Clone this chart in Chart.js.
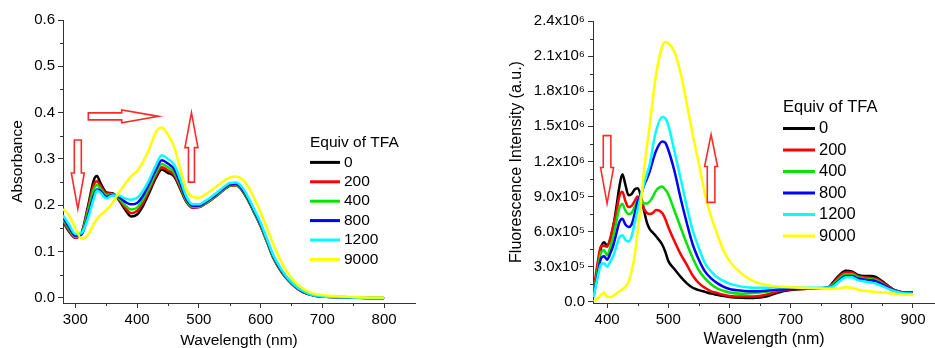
<!DOCTYPE html>
<html>
<head>
<meta charset="utf-8">
<script src="https://cdn.jsdelivr.net/npm/chart.js@4/dist/chart.umd.min.js"></script>
<style>
  html, body { margin: 0; padding: 0; background: #fff; }
  #wrap { position: relative; width: 935px; height: 348px; overflow: hidden; }
  canvas { position: absolute; top: 0; }
  #absChart { left: 0; }
  #flChart { left: 465px; }
</style>
</head>
<body>
<div id="wrap">
  <canvas id="absChart" width="465" height="348"></canvas>
  <canvas id="flChart" width="470" height="348"></canvas>
</div>
<script>
// legend labels and line colours (equivalents of TFA)
const equivTFA = ['0', '200', '400', '800', '1200', '9000'];
const lineColors = ['#000000', '#ff0000', '#00e600', '#0000ff', '#00ffff', '#ffff00'];

// ---- absorbance panel ----
const absWavelength = [
  280, 290, 300, 310, 320, 330, 335, 340,
  350, 360, 370, 380, 390, 400, 410, 420,
  430, 440, 450, 460, 470, 480, 490, 500,
  510, 520, 530, 540, 550, 560, 570, 580,
  590, 600, 610, 620, 630, 640, 650, 660,
  670, 680, 690, 700, 720, 750, 780, 800
];
const abs0 = [
  0.165, 0.143, 0.130, 0.140, 0.195, 0.255, 0.263, 0.250,
  0.228, 0.226, 0.212, 0.192, 0.176, 0.180, 0.200, 0.228,
  0.258, 0.277, 0.270, 0.262, 0.235, 0.207, 0.195, 0.196,
  0.203, 0.212, 0.222, 0.233, 0.242, 0.243, 0.232, 0.210,
  0.183, 0.155, 0.122, 0.088, 0.064, 0.045, 0.031, 0.020,
  0.012, 0.007, 0.004, 0.003, 0.002, 0.001, 0.000, 0.000
];
const abs200 = [
  0.167, 0.145, 0.130, 0.138, 0.190, 0.245, 0.252, 0.243,
  0.226, 0.225, 0.214, 0.196, 0.183, 0.188, 0.207, 0.234,
  0.263, 0.282, 0.275, 0.266, 0.238, 0.208, 0.195, 0.196,
  0.203, 0.212, 0.222, 0.233, 0.242, 0.243, 0.233, 0.211,
  0.184, 0.156, 0.123, 0.089, 0.065, 0.046, 0.031, 0.020,
  0.012, 0.007, 0.004, 0.003, 0.002, 0.001, 0.000, 0.000
];
const abs400 = [
  0.170, 0.148, 0.132, 0.138, 0.185, 0.235, 0.244, 0.237,
  0.222, 0.224, 0.216, 0.201, 0.191, 0.195, 0.214, 0.240,
  0.269, 0.289, 0.282, 0.271, 0.242, 0.210, 0.197, 0.197,
  0.204, 0.213, 0.223, 0.234, 0.243, 0.244, 0.234, 0.212,
  0.185, 0.157, 0.124, 0.090, 0.066, 0.047, 0.032, 0.021,
  0.013, 0.008, 0.005, 0.003, 0.002, 0.001, 0.000, 0.000
];
const abs800 = [
  0.175, 0.152, 0.134, 0.137, 0.175, 0.222, 0.234, 0.232,
  0.218, 0.222, 0.218, 0.208, 0.202, 0.205, 0.222, 0.248,
  0.276, 0.297, 0.290, 0.278, 0.247, 0.213, 0.199, 0.199,
  0.206, 0.215, 0.225, 0.236, 0.245, 0.246, 0.236, 0.214,
  0.187, 0.159, 0.126, 0.092, 0.067, 0.048, 0.033, 0.021,
  0.013, 0.008, 0.005, 0.003, 0.002, 0.001, 0.000, 0.000
];
const abs1200 = [
  0.178, 0.158, 0.138, 0.140, 0.170, 0.215, 0.232, 0.228,
  0.215, 0.221, 0.221, 0.215, 0.212, 0.216, 0.232, 0.256,
  0.285, 0.308, 0.300, 0.288, 0.255, 0.218, 0.202, 0.202,
  0.209, 0.218, 0.228, 0.239, 0.248, 0.249, 0.239, 0.217,
  0.190, 0.162, 0.128, 0.094, 0.069, 0.049, 0.034, 0.022,
  0.014, 0.008, 0.005, 0.003, 0.002, 0.001, 0.000, 0.000
];
const abs9000 = [
  0.192, 0.178, 0.151, 0.128, 0.135, 0.160, 0.170, 0.178,
  0.189, 0.205, 0.226, 0.245, 0.262, 0.274, 0.295, 0.322,
  0.357, 0.368, 0.352, 0.326, 0.278, 0.234, 0.218, 0.216,
  0.223, 0.232, 0.242, 0.252, 0.260, 0.262, 0.256, 0.240,
  0.214, 0.185, 0.152, 0.118, 0.088, 0.062, 0.043, 0.029,
  0.019, 0.012, 0.008, 0.006, 0.004, 0.002, 0.001, 0.001
];
const absXTicks = [300, 400, 500, 600, 700, 800];
const absYTicks = [0, 0.1, 0.2, 0.3, 0.4, 0.5, 0.6];
const absYLabels = ['0.0', '0.1', '0.2', '0.3', '0.4', '0.5', '0.6'];

// ---- fluorescence panel (intensity in units of 10^5) ----
const flWavelength = [
  378, 385, 390, 395, 400, 405, 410, 415,
  420, 425, 430, 435, 440, 445, 450, 455,
  460, 465, 470, 475, 480, 490, 495, 500,
  510, 520, 530, 540, 550, 560, 570, 580,
  590, 600, 620, 640, 660, 680, 700, 720,
  740, 760, 770, 780, 790, 800, 810, 820,
  830, 840, 850, 860, 870, 880, 890, 900
];
const fl0 = [
  0.8, 3.0, 4.6, 5.1, 4.8, 5.3, 6.4, 8.0,
  9.8, 10.9, 10.0, 9.1, 9.2, 9.6, 9.7, 9.1,
  7.9, 6.8, 6.2, 5.9, 5.6, 4.9, 4.3, 3.5,
  2.8, 2.15, 1.6, 1.2, 1.0, 0.85, 0.7, 0.6,
  0.5, 0.42, 0.35, 0.33, 0.45, 0.8, 1.0, 1.1,
  1.15, 1.2, 1.7, 2.3, 2.65, 2.6, 2.3, 2.2,
  2.2, 2.1, 1.75, 1.35, 1.0, 0.85, 0.8, 0.8
];
const fl200 = [
  1.0, 3.5, 4.8, 4.8, 4.7, 5.4, 6.5, 7.6,
  9.0, 9.4, 8.6, 8.1, 8.2, 8.6, 9.0, 8.8,
  8.0, 7.6, 7.5, 7.6, 7.85, 7.6, 7.1, 6.4,
  5.2, 4.1, 3.2, 2.25, 1.6, 1.2, 0.9, 0.75,
  0.6, 0.5, 0.45, 0.45, 0.6, 0.9, 1.05, 1.1,
  1.15, 1.2, 1.6, 2.2, 2.5, 2.5, 2.2, 2.1,
  2.05, 1.95, 1.65, 1.3, 1.0, 0.85, 0.78, 0.75
];
const fl400 = [
  0.6, 2.8, 4.2, 4.4, 4.0, 4.6, 5.6, 6.8,
  8.0, 8.35, 7.8, 7.5, 7.6, 8.1, 8.6, 8.6,
  8.4, 8.4, 8.6, 9.0, 9.5, 9.85, 9.6, 9.2,
  7.8, 6.4, 5.0, 3.75, 2.7, 2.0, 1.5, 1.15,
  0.95, 0.8, 0.7, 0.75, 0.85, 1.05, 1.15, 1.15,
  1.15, 1.2, 1.5, 2.0, 2.35, 2.35, 2.1, 2.0,
  1.95, 1.85, 1.55, 1.2, 0.95, 0.82, 0.75, 0.72
];
const fl800 = [
  0.5, 2.4, 3.7, 3.9, 3.6, 4.1, 4.8, 5.8,
  6.8, 7.1, 6.6, 6.4, 6.6, 7.5, 8.6, 9.1,
  9.9, 10.5, 11.2, 12.1, 12.9, 13.7, 13.6, 13.0,
  11.2, 8.9, 6.8, 4.9, 3.6, 2.6, 2.0, 1.6,
  1.3, 1.1, 0.95, 0.9, 0.95, 1.05, 1.1, 1.15,
  1.15, 1.2, 1.4, 1.85, 2.2, 2.2, 2.0, 1.9,
  1.85, 1.75, 1.5, 1.2, 0.95, 0.82, 0.75, 0.72
];
const fl1200 = [
  0.4, 2.2, 3.2, 3.3, 3.0, 3.4, 3.9, 4.7,
  5.5, 5.7, 5.3, 5.15, 5.6, 6.7, 7.9, 9.0,
  10.0, 10.9, 11.8, 13.3, 14.6, 15.8, 15.7, 15.1,
  12.9, 10.6, 8.2, 6.1, 4.6, 3.3, 2.6, 2.1,
  1.8, 1.55, 1.3, 1.2, 1.2, 1.25, 1.25, 1.2,
  1.2, 1.2, 1.35, 1.75, 2.1, 2.1, 1.85, 1.75,
  1.65, 1.55, 1.35, 1.1, 0.9, 0.78, 0.72, 0.7
];
const fl9000 = [
  0.05, 0.3, 0.6, 0.8, 0.45, 0.4, 0.5, 0.7,
  0.9, 1.05, 1.3, 1.7, 2.6, 3.9, 6.0, 8.2,
  11.0, 13.2, 15.2, 17.4, 19.4, 21.8, 22.2, 22.1,
  21.4, 19.6, 17.0, 14.3, 11.8, 9.2, 7.3, 5.8,
  4.4, 3.5, 2.4, 1.75, 1.45, 1.3, 1.25, 1.2,
  1.15, 1.1, 1.1, 1.15, 1.25, 1.2, 1.05, 0.95,
  0.9, 0.85, 0.8, 0.75, 0.7, 0.65, 0.6, 0.6
];
const flXTicks = [400, 500, 600, 700, 800, 900];
const flYTicks = [0, 3, 6, 9, 12, 15, 18, 21, 24];
const flYLabels = ['0.0', '3.0x10\u2075', '6.0x10\u2075', '9.0x10\u2075', '1.2x10\u2076',
                   '1.5x10\u2076', '1.8x10\u2076', '2.1x10\u2076', '2.4x10\u2076'];

const FONT = '"Liberation Sans", Arial, sans-serif';

function makeSets(xs, series) {
  return series.map((ys, i) => ({
    label: equivTFA[i],
    data: xs.map((x, k) => ({ x: x, y: ys[k] })),
    borderColor: lineColors[i],
    backgroundColor: lineColors[i],
    borderWidth: 2.5,
    pointRadius: 0,
    cubicInterpolationMode: 'monotone',
    order: series.length - i
  }));
}

// short outward minor ticks halfway between the major ticks
const minorTicks = {
  id: 'minorTicks',
  afterDraw(chart) {
    const ctx = chart.ctx;
    ctx.save();
    ctx.strokeStyle = '#333';
    ctx.lineWidth = 1;
    ['x', 'y'].forEach(id => {
      const s = chart.scales[id];
      const t = s.ticks;
      for (let i = 0; i < t.length - 1; i++) {
        const v = (t[i].value + t[i + 1].value) / 2;
        const p = Math.round(s.getPixelForValue(v)) + 0.5;
        ctx.beginPath();
        if (id === 'x') { ctx.moveTo(p, s.top); ctx.lineTo(p, s.top + 3); }
        else { ctx.moveTo(s.right, p); ctx.lineTo(s.right - 3, p); }
        ctx.stroke();
      }
    });
    ctx.restore();
  }
};

// legend inside the plot: title + short line samples
const tfaLegend = {
  id: 'tfaLegend',
  afterDraw(chart, args, o) {
    const ctx = chart.ctx;
    ctx.save();
    ctx.font = o.fontSize + 'px ' + FONT;
    ctx.fillStyle = '#000';
    ctx.textBaseline = 'middle';
    ctx.textAlign = 'left';
    ctx.fillText(o.title, o.x, o.y);
    chart.data.datasets.forEach((ds, i) => {
      const y = o.y + o.rowH * (i + 1);
      ctx.strokeStyle = ds.borderColor;
      ctx.lineWidth = 3;
      ctx.beginPath();
      ctx.moveTo(o.x, y);
      ctx.lineTo(o.x + o.lineLen, y);
      ctx.stroke();
      ctx.fillText(ds.label, o.x + o.lineLen + 4, y);
    });
    ctx.restore();
  }
};

// hollow red arrows, anchored in data coordinates
const redArrows = {
  id: 'redArrows',
  afterDraw(chart, args, o) {
    const ctx = chart.ctx, xs = chart.scales.x, ys = chart.scales.y;
    ctx.save();
    ctx.strokeStyle = '#ff2a2a';
    ctx.lineWidth = 1.6;
    ctx.lineJoin = 'miter';
    o.list.forEach(a => {
      const x0 = xs.getPixelForValue(a.from[0]), y0 = ys.getPixelForValue(a.from[1]);
      const x1 = xs.getPixelForValue(a.to[0]), y1 = ys.getPixelForValue(a.to[1]);
      const len = Math.hypot(x1 - x0, y1 - y0);
      const ux = (x1 - x0) / len, uy = (y1 - y0) / len;
      const nx = -uy, ny = ux;
      const hx = x1 - ux * a.head, hy = y1 - uy * a.head;
      const pts = [
        [x0 + nx * a.shaft, y0 + ny * a.shaft],
        [hx + nx * a.shaft, hy + ny * a.shaft],
        [hx + nx * a.wing, hy + ny * a.wing],
        [x1, y1],
        [hx - nx * a.wing, hy - ny * a.wing],
        [hx - nx * a.shaft, hy - ny * a.shaft],
        [x0 - nx * a.shaft, y0 - ny * a.shaft]
      ];
      ctx.beginPath();
      pts.forEach((p, i) => i ? ctx.lineTo(p[0], p[1]) : ctx.moveTo(p[0], p[1]));
      ctx.closePath();
      ctx.stroke();
    });
    ctx.restore();
  }
};

function axisOptions(cfg) {
  return {
    type: 'linear',
    min: cfg.min,
    max: cfg.max,
    afterBuildTicks: s => { s.ticks = cfg.ticks.map(v => ({ value: v })); },
    afterFit: s => { if (cfg.size) { if (s.isHorizontal()) s.height = cfg.size; else s.width = cfg.size; } },
    border: { display: true, color: '#333', width: 1 },
    grid: { display: true, drawOnChartArea: false, drawTicks: true, tickLength: 5, color: '#333' },
    ticks: {
      color: '#000',
      font: { family: FONT, size: 15 },
      padding: 3,
      maxRotation: 0,
      autoSkip: false,
      callback: cfg.labels ? (v, i) => cfg.labels[i] : v => String(v)
    },
    title: {
      display: true,
      text: cfg.title,
      color: '#000',
      font: { family: FONT, size: cfg.titleSize, lineHeight: 1 },
      padding: cfg.titlePad
    }
  };
}

new Chart(document.getElementById('absChart'), {
  type: 'line',
  data: { datasets: makeSets(absWavelength, [abs0, abs200, abs400, abs800, abs1200, abs9000]) },
  options: {
    responsive: false,
    animation: false,
    devicePixelRatio: 1,
    layout: { padding: { top: 20, right: 50, left: 0, bottom: 0 } },
    plugins: {
      legend: { display: false },
      tooltip: { enabled: false },
      tfaLegend: { title: 'Equiv of TFA', x: 310, y: 143, rowH: 19.4, lineLen: 30, fontSize: 15.5 },
      redArrows: {
        list: [
          { from: [304, 0.341], to: [304, 0.192], shaft: 3.5, wing: 6.5, head: 36 },
          { from: [321, 0.392], to: [435, 0.392], shaft: 3.5, wing: 6.5, head: 37 },
          { from: [488, 0.25], to: [488, 0.40], shaft: 3, wing: 6.5, head: 35 }
        ]
      }
    },
    scales: {
      x: axisOptions({ min: 280, max: 850, ticks: absXTicks, size: 45, title: 'Wavelength (nm)',
                       titleSize: 15.5, titlePad: { top: 0, bottom: 0 } }),
      y: axisOptions({ min: -0.011, max: 0.6, ticks: absYTicks, labels: absYLabels, size: 63,
                       title: 'Absorbance', titleSize: 15.5, titlePad: { top: 10, bottom: 0 } })
    }
  },
  plugins: [minorTicks, tfaLegend, redArrows]
});

new Chart(document.getElementById('flChart'), {
  type: 'line',
  data: { datasets: makeSets(flWavelength, [fl0, fl200, fl400, fl800, fl1200, fl9000]) },
  options: {
    responsive: false,
    animation: false,
    devicePixelRatio: 1,
    layout: { padding: { top: 21, right: 0, left: 0, bottom: 0 } },
    plugins: {
      legend: { display: false },
      tooltip: { enabled: false },
      tfaLegend: { title: 'Equiv of TFA', x: 318, y: 107, rowH: 21.5, lineLen: 32, fontSize: 16.5 },
      redArrows: {
        list: [
          { from: [400, 14.2], to: [400, 8.4], shaft: 3.8, wing: 6.5, head: 36 },
          { from: [570, 8.5], to: [570, 14.3], shaft: 3.8, wing: 6.5, head: 32 }
        ]
      }
    },
    scales: {
      x: axisOptions({ min: 377, max: 936, ticks: flXTicks, size: 45, title: 'Wavelength (nm)',
                       titleSize: 16, titlePad: { top: 0, bottom: 0 } }),
      y: axisOptions({ min: -0.1, max: 24, ticks: flYTicks, labels: flYLabels, size: 128,
                       title: 'Fluorescence Intensity (a.u.)', titleSize: 16, titlePad: { top: 44, bottom: 0 } })
    }
  },
  plugins: [minorTicks, tfaLegend, redArrows]
});
</script>
</body>
</html>
